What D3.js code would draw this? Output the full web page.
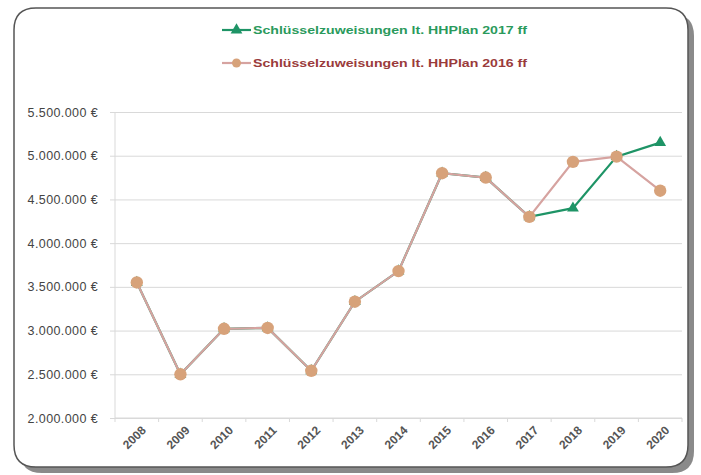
<!DOCTYPE html>
<html>
<head>
<meta charset="utf-8">
<script src="https://cdn.jsdelivr.net/npm/d3@7"></script>
<style>
  body { margin: 0; background: #fff; }
  text { font-family: "Liberation Sans", Arial, sans-serif; }
</style>
</head>
<body>
<svg id="chart" width="701" height="475"></svg>
<script>
// data
var years = ["2008","2009","2010","2011","2012","2013","2014","2015","2016","2017","2018","2019","2020"];
var plan2017 = [3550000,2500000,3020000,3030000,2540000,3330000,3680000,4800000,4750000,4300000,4400000,4990000,5150000];
var plan2016 = [3550000,2500000,3020000,3030000,2540000,3330000,3680000,4800000,4750000,4300000,4930000,4990000,4600000];
var yTicks = [2000000,2500000,3000000,3500000,4000000,4500000,5000000,5500000];
var legendNames = ["Schlüsselzuweisungen lt. HHPlan 2017 ff", "Schlüsselzuweisungen lt. HHPlan 2016 ff"];

var svg = d3.select("#chart");

// card with shadow
svg.append("path")
  .attr("d", roundRect(20, 14, 674, 459, 22))
  .attr("fill", "#8a8a8a");
svg.append("path")
  .attr("d", roundRect(14, 8, 674, 459, 22))
  .attr("fill", "#fff")
  .attr("stroke", "#555")
  .attr("stroke-width", 1.5);

function roundRect(x, y, w, h, r) {
  return "M" + (x + r) + "," + y + " H" + (x + w - r) + " Q" + (x + w) + "," + y + " " + (x + w) + "," + (y + r) +
    " V" + (y + h - r) + " Q" + (x + w) + "," + (y + h) + " " + (x + w - r) + "," + (y + h) +
    " H" + (x + r) + " Q" + x + "," + (y + h) + " " + x + "," + (y + h - r) +
    " V" + (y + r) + " Q" + x + "," + y + " " + (x + r) + "," + y + "Z";
}

var pLeft = 115, pRight = 682, pTop = 112, pBottom = 418;

var x = d3.scalePoint().domain(years).range([pLeft, pRight]).padding(0.5);
var y = d3.scaleLinear().domain([2000000, 5500000]).range([pBottom, pTop]);

var fmt = function (v) { return d3.format(",")(v).replace(/,/g, ".") + " €"; };

// gridlines + y labels
var yAxis = svg.append("g")
  .attr("transform", "translate(" + pLeft + ",0)")
  .call(d3.axisLeft(y).tickValues(yTicks).tickSize(-(pRight - pLeft)).tickPadding(17).tickFormat(fmt));
yAxis.select(".domain").remove();
yAxis.selectAll(".tick line").attr("stroke", "#d9d9d9").attr("x1", -5);
yAxis.selectAll(".tick text")
  .attr("fill", "#444")
  .attr("font-size", 12.5)
  .attr("letter-spacing", "0.4")
  .style("font-family", "Liberation Sans, Arial, sans-serif");

// left axis line
svg.append("line")
  .attr("x1", pLeft).attr("x2", pLeft).attr("y1", pTop).attr("y2", pBottom)
  .attr("stroke", "#d9d9d9");

// x axis
var step = x.step();
var xAxis = svg.append("g")
  .attr("transform", "translate(0," + pBottom + ")");
xAxis.append("line")
  .attr("x1", pLeft).attr("x2", pRight).attr("stroke", "#d9d9d9");
xAxis.selectAll("line.tk")
  .data(d3.range(years.length + 1))
  .join("line")
  .attr("class", "tk")
  .attr("x1", function (i) { return pLeft + i * step; })
  .attr("x2", function (i) { return pLeft + i * step; })
  .attr("y1", 0).attr("y2", 4)
  .attr("stroke", "#d9d9d9");
xAxis.selectAll("text")
  .data(years)
  .join("text")
  .attr("transform", function (d) { return "translate(" + (x(d) + 4) + ",7) rotate(-45)"; })
  .attr("text-anchor", "end")
  .attr("dy", "0.7em")
  .attr("font-size", 12)
  .attr("font-weight", "bold")
  .attr("fill", "#555")
  .text(function (d) { return d; });

var green = "#1e9466", lineOrange = "#d6a3a0", dotOrange = "#d7a27a";

var line = d3.line().x(function (d, i) { return x(years[i]); }).y(function (d) { return y(d); });

// green series
svg.append("path").datum(plan2017)
  .attr("d", line).attr("fill", "none").attr("stroke", green).attr("stroke-width", 2.2);
var tri = d3.symbol().type(d3.symbolTriangle).size(60);
svg.selectAll("path.g").data(plan2017).join("path")
  .attr("class", "g")
  .attr("d", tri)
  .attr("transform", function (d, i) { return "translate(" + x(years[i]) + "," + y(d) + ")"; })
  .attr("fill", green);

// orange series on top
svg.append("path").datum(plan2016)
  .attr("d", line).attr("fill", "none").attr("stroke", lineOrange).attr("stroke-width", 2.2);
svg.selectAll("circle.o").data(plan2016).join("circle")
  .attr("class", "o")
  .attr("cx", function (d, i) { return x(years[i]); })
  .attr("cy", function (d) { return y(d); })
  .attr("r", 6.2)
  .attr("fill", dotOrange);

// legend
var legend = [
  { name: legendNames[0], y: 30, line: green, text: "#2a9a5c", mark: "tri" },
  { name: legendNames[1], y: 63, line: lineOrange, text: "#9a3b3b", mark: "dot" }
];
legend.forEach(function (l) {
  svg.append("line").attr("x1", 222).attr("x2", 251).attr("y1", l.y).attr("y2", l.y)
    .attr("stroke", l.line).attr("stroke-width", 2.2);
  if (l.mark === "tri") {
    svg.append("path").attr("d", tri).attr("transform", "translate(236.5," + l.y + ")").attr("fill", green);
  } else {
    svg.append("circle").attr("cx", 236.5).attr("cy", l.y).attr("r", 4.5).attr("fill", dotOrange);
  }
  svg.append("text")
    .attr("x", 253).attr("y", l.y).attr("dy", "0.35em")
    .attr("font-size", 11.5).attr("font-weight", "bold")
    .attr("fill", l.text)
    .attr("textLength", 274).attr("lengthAdjust", "spacingAndGlyphs")
    .text(l.name);
});
</script>
</body>
</html>
